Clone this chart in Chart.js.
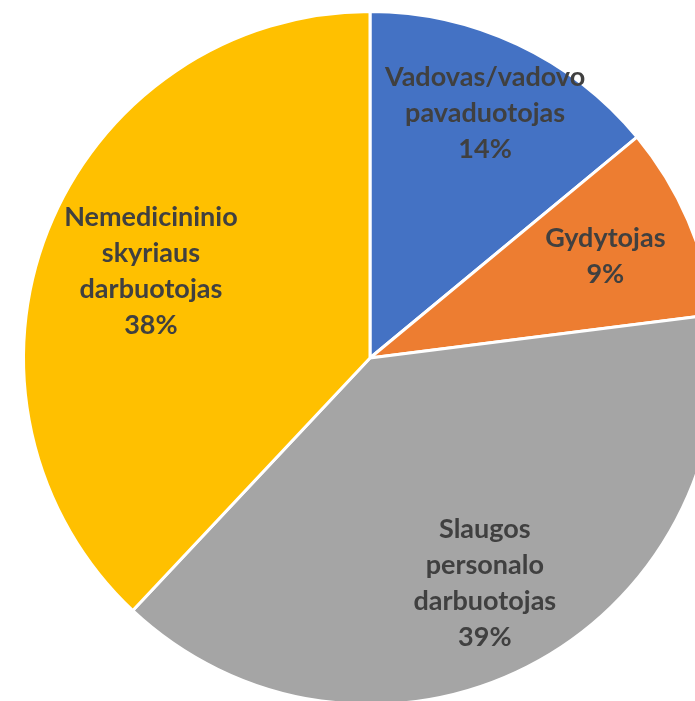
<!doctype html>
<html lang="lt">

<head>
    <meta charset="utf-8">
    <title>Pie chart</title>
    <style>
        html, body {
            margin: 0;
            padding: 0;
            background: #fff;
            overflow: hidden;
        }

        .wrap {
            position: absolute;
            left: 0;
            top: 0;
            width: 740px;
            height: 716px;
        }
    </style>
</head>

<body>
    <div class="wrap">
        <canvas id="piechart"></canvas>
    </div>
    <script src="https://cdn.jsdelivr.net/npm/chart.js"></script>
    <script>
        // data
        const categories = [
            ['Vadovas/vadovo', 'pavaduotojas'],
            ['Gydytojas'],
            ['Slaugos', 'personalo', 'darbuotojas'],
            ['Nemedicininio', 'skyriaus', 'darbuotojas']
        ];
        const shares = [14, 9, 39, 38];
        const sliceColors = ['#4472C4', '#ED7D31', '#A5A5A5', '#FFC000'];

        // puts the category + percent text inside every slice
        const sliceLabels = {
            id: 'sliceLabels',
            afterDatasetsDraw(chart, args, opts) {
                const ctx = chart.ctx;
                const meta = chart.getDatasetMeta(0);
                const total = shares.reduce((a, b) => a + b, 0);
                ctx.save();
                ctx.font = 'bold ' + opts.size + 'px Lato';
                ctx.fillStyle = '#404040';
                ctx.textAlign = 'center';
                ctx.textBaseline = 'middle';
                meta.data.forEach((arc, i) => {
                    const p = arc.getProps(['x', 'y', 'startAngle', 'endAngle', 'outerRadius'], true);
                    const mid = (p.startAngle + p.endAngle) / 2;
                    const r = p.outerRadius * opts.radius[i];
                    const cx = p.x + Math.cos(mid) * r;
                    const cy = p.y + Math.sin(mid) * r;
                    const lines = categories[i].concat([Math.round(shares[i] / total * 100) + '%']);
                    const top = cy - (lines.length - 1) * opts.lineHeight / 2;
                    lines.forEach((t, k) => ctx.fillText(t, cx, top + k * opts.lineHeight));
                });
                ctx.restore();
            }
        };

        let ctx = document.querySelector('#piechart').getContext('2d');
        let piechart = new Chart(ctx, {
            type: 'pie',
            data: {
                labels: categories.map(c => c.join(' ')),
                datasets: [{
                    data: shares,
                    backgroundColor: sliceColors,
                    borderColor: '#ffffff',
                    borderWidth: 3
                }]
            },
            options: {
                responsive: true,
                maintainAspectRatio: false,
                animation: false,
                layout: {
                    padding: { top: 10, bottom: 10, left: 0, right: 0 }
                },
                plugins: {
                    legend: { display: false },
                    tooltip: { enabled: false },
                    sliceLabels: {
                        size: 27,
                        lineHeight: 36,
                        radius: [0.78, 0.74, 0.73, 0.68]
                    }
                }
            },
            plugins: [sliceLabels]
        });
    </script>

</body>

</html>
